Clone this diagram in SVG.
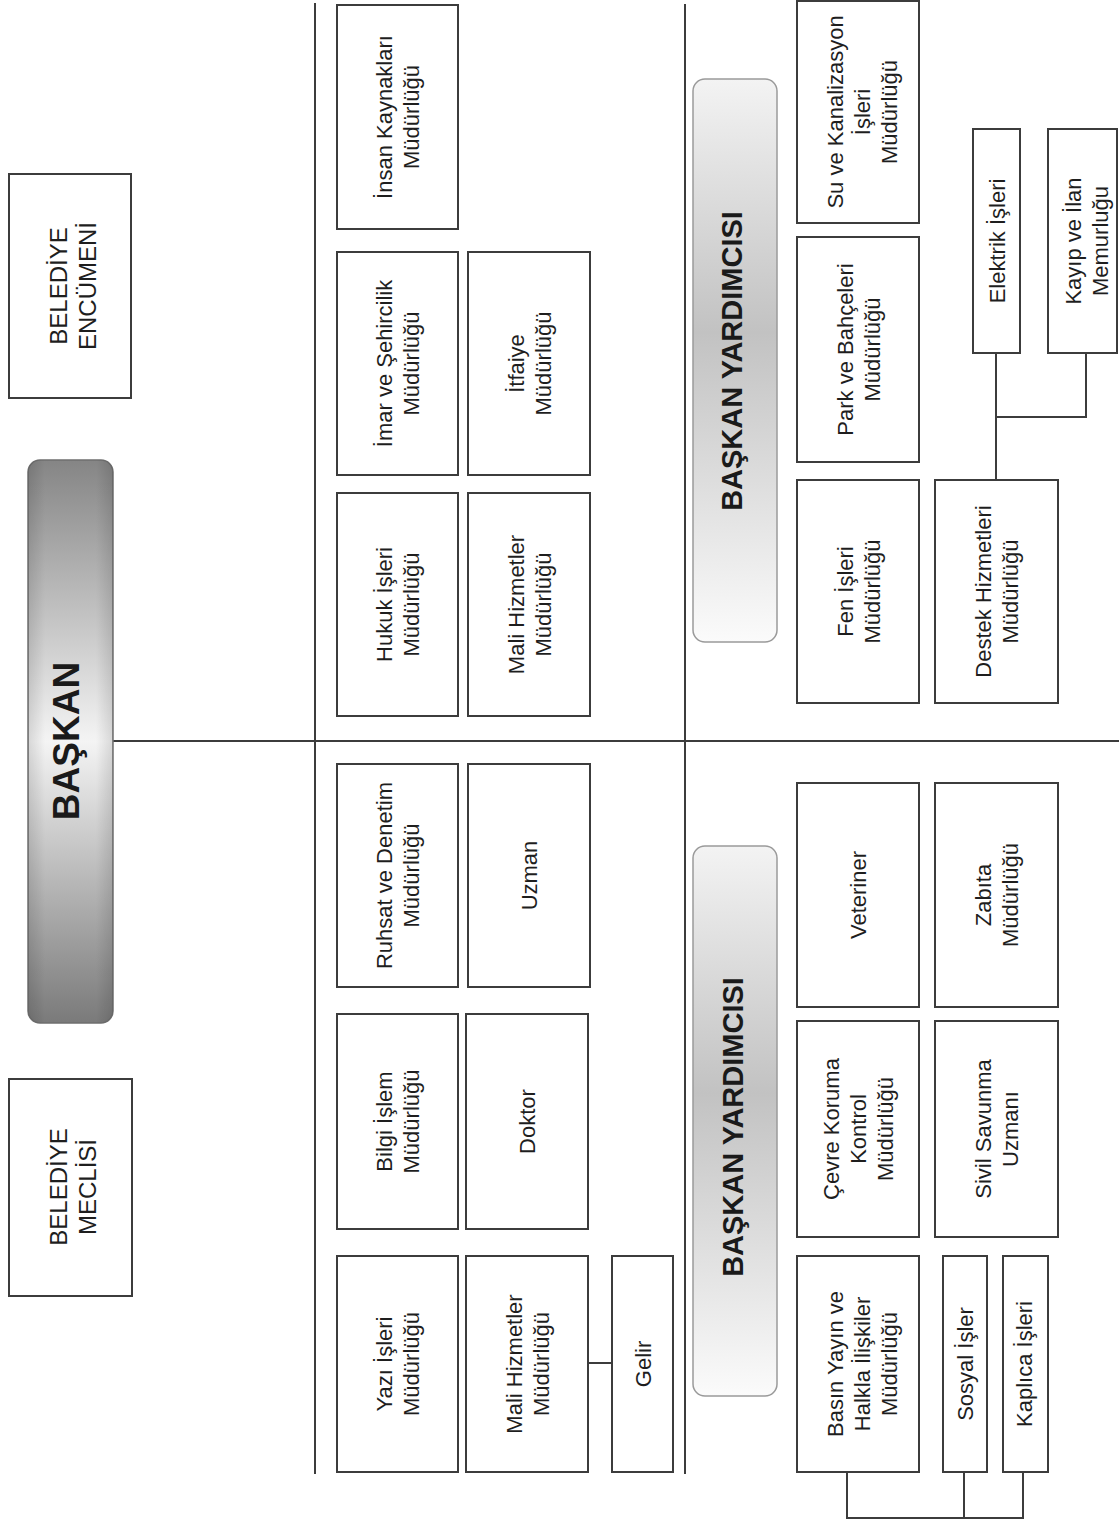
<svg xmlns="http://www.w3.org/2000/svg" width="1119" height="1539" viewBox="0 0 1119 1539">
<defs>
<linearGradient id="gBaskan" x1="0" y1="0" x2="0" y2="1">
<stop offset="0" stop-color="#858585"/>
<stop offset="0.5" stop-color="#f4f4f4"/>
<stop offset="1" stop-color="#7a7a7a"/>
</linearGradient>
<linearGradient id="gEdge" x1="0" y1="0" x2="1" y2="0">
<stop offset="0" stop-color="#000" stop-opacity="0.12"/>
<stop offset="0.2" stop-color="#000" stop-opacity="0"/>
<stop offset="0.8" stop-color="#000" stop-opacity="0"/>
<stop offset="1" stop-color="#000" stop-opacity="0.12"/>
</linearGradient>
<linearGradient id="gYard" x1="0" y1="0" x2="0" y2="1">
<stop offset="0" stop-color="#f3f3f3"/>
<stop offset="0.45" stop-color="#c2c2c2"/>
<stop offset="0.8" stop-color="#e6e6e6"/>
<stop offset="1" stop-color="#fbfbfb"/>
</linearGradient>
</defs>
<style>
.box{fill:#fff;stroke:#3c3c3c;stroke-width:2}
.t{font-family:"Liberation Sans",Arial,sans-serif;font-size:22px;fill:#1e1e1e;text-anchor:middle}
.tb{font-family:"Liberation Sans",Arial,sans-serif;font-size:24px;fill:#1e1e1e;text-anchor:middle}
.th{font-family:"Liberation Sans",Arial,sans-serif;font-weight:bold;fill:#1a1a1a;text-anchor:middle}
.ln{fill:none;stroke:#3c3c3c;stroke-width:2}
</style>
<rect width="1119" height="1539" fill="#fff"/>

<g id="connectors">
<path class="ln" d="M315,3 V1474"/>
<path class="ln" d="M685,4 V1474"/>
<path class="ln" d="M113,741 H1119"/>
<path class="ln" d="M588,1363 H612"/>
<path class="ln" d="M996,480 V353"/>
<path class="ln" d="M996,417 H1086 V353"/>
<path class="ln" d="M847,1472 V1518 H1023 V1472"/>
<path class="ln" d="M964,1472 V1518"/>
</g>

<g id="belediye-encumeni">
<rect class="box" x="9" y="174" width="122" height="224"/>
<text class="tb" transform="translate(72.5,286) rotate(-90)"><tspan x="0" y="-6">BELEDİYE</tspan><tspan x="0" y="23">ENCÜMENİ</tspan></text>
</g>
<g id="baskan">
<rect x="28" y="460" width="85" height="563" rx="12" fill="url(#gBaskan)" stroke="#6f6f6f" stroke-width="1.5"/>
<rect x="28" y="460" width="85" height="563" rx="12" fill="url(#gEdge)"/>
<text class="th" font-size="37" transform="translate(66,741) rotate(-90)"><tspan x="0" y="13">BAŞKAN</tspan></text>
</g>
<g id="belediye-meclisi">
<rect class="box" x="9" y="1079" width="123" height="217"/>
<text class="tb" transform="translate(72.5,1187) rotate(-90)"><tspan x="0" y="-6">BELEDİYE</tspan><tspan x="0" y="23">MECLİSİ</tspan></text>
</g>

<g id="insan-kaynaklari">
<rect class="box" x="337" y="5" width="121" height="224"/>
<text class="t" transform="translate(397.5,117) rotate(-90)"><tspan x="0" y="-5.5">İnsan Kaynakları</tspan><tspan x="0" y="21.5">Müdürlüğü</tspan></text>
</g>
<g id="imar">
<rect class="box" x="337" y="252" width="121" height="223"/>
<text class="t" transform="translate(397.5,363.5) rotate(-90)"><tspan x="0" y="-5.5">İmar ve Şehircilik</tspan><tspan x="0" y="21.5">Müdürlüğü</tspan></text>
</g>
<g id="itfaiye">
<rect class="box" x="468" y="252" width="122" height="223"/>
<text class="t" transform="translate(529,363.5) rotate(-90)"><tspan x="0" y="-5.5">İtfaiye</tspan><tspan x="0" y="21.5">Müdürlüğü</tspan></text>
</g>
<g id="hukuk">
<rect class="box" x="337" y="493" width="121" height="223"/>
<text class="t" transform="translate(397.5,604.5) rotate(-90)"><tspan x="0" y="-5.5">Hukuk İşleri</tspan><tspan x="0" y="21.5">Müdürlüğü</tspan></text>
</g>
<g id="mali-hizmetler-1">
<rect class="box" x="468" y="493" width="122" height="223"/>
<text class="t" transform="translate(529,604.5) rotate(-90)"><tspan x="0" y="-5.5">Mali Hizmetler</tspan><tspan x="0" y="21.5">Müdürlüğü</tspan></text>
</g>
<g id="ruhsat">
<rect class="box" x="337" y="764" width="121" height="223"/>
<text class="t" transform="translate(397.5,875.5) rotate(-90)"><tspan x="0" y="-5.5">Ruhsat ve Denetim</tspan><tspan x="0" y="21.5">Müdürlüğü</tspan></text>
</g>
<g id="uzman">
<rect class="box" x="468" y="764" width="122" height="223"/>
<text class="t" transform="translate(529,875.5) rotate(-90)"><tspan x="0" y="8">Uzman</tspan></text>
</g>
<g id="bilgi-islem">
<rect class="box" x="337" y="1014" width="121" height="215"/>
<text class="t" transform="translate(397.5,1121.5) rotate(-90)"><tspan x="0" y="-5.5">Bilgi İşlem</tspan><tspan x="0" y="21.5">Müdürlüğü</tspan></text>
</g>
<g id="doktor">
<rect class="box" x="466" y="1014" width="122" height="215"/>
<text class="t" transform="translate(527,1121.5) rotate(-90)"><tspan x="0" y="8">Doktor</tspan></text>
</g>
<g id="yazi-isleri">
<rect class="box" x="337" y="1256" width="121" height="216"/>
<text class="t" transform="translate(397.5,1364) rotate(-90)"><tspan x="0" y="-5.5">Yazı İşleri</tspan><tspan x="0" y="21.5">Müdürlüğü</tspan></text>
</g>
<g id="mali-hizmetler-2">
<rect class="box" x="466" y="1256" width="122" height="216"/>
<text class="t" transform="translate(527,1364) rotate(-90)"><tspan x="0" y="-5.5">Mali Hizmetler</tspan><tspan x="0" y="21.5">Müdürlüğü</tspan></text>
</g>
<g id="gelir">
<rect class="box" x="612" y="1256" width="61" height="216"/>
<text class="t" transform="translate(642.5,1364) rotate(-90)"><tspan x="0" y="8">Gelir</tspan></text>
</g>

<g id="baskan-yardimcisi-1">
<rect x="693" y="79" width="84" height="563" rx="12" fill="url(#gYard)" stroke="#9a9a9a" stroke-width="1.5"/>
<text class="th" font-size="29" transform="translate(731,361) rotate(-90)"><tspan x="0" y="10.5">BAŞKAN YARDIMCISI</tspan></text>
</g>
<g id="su-kanalizasyon">
<rect class="box" x="797" y="1" width="122" height="222"/>
<text class="t" transform="translate(862,112) rotate(-90)"><tspan x="0" y="-19">Su ve Kanalizasyon</tspan><tspan x="0" y="8">İşleri</tspan><tspan x="0" y="35">Müdürlüğü</tspan></text>
</g>
<g id="park-bahceleri">
<rect class="box" x="797" y="237" width="122" height="225"/>
<text class="t" transform="translate(858,349.5) rotate(-90)"><tspan x="0" y="-5.5">Park ve Bahçeleri</tspan><tspan x="0" y="21.5">Müdürlüğü</tspan></text>
</g>
<g id="fen-isleri">
<rect class="box" x="797" y="480" width="122" height="223"/>
<text class="t" transform="translate(858,591.5) rotate(-90)"><tspan x="0" y="-5.5">Fen İşleri</tspan><tspan x="0" y="21.5">Müdürlüğü</tspan></text>
</g>
<g id="elektrik-isleri">
<rect class="box" x="973" y="129" width="47" height="224"/>
<text class="t" transform="translate(996.5,241) rotate(-90)"><tspan x="0" y="8">Elektrik İşleri</tspan></text>
</g>
<g id="kayip-ilan">
<rect class="box" x="1048" y="129" width="69" height="224"/>
<text class="t" transform="translate(1086,241) rotate(-90)"><tspan x="0" y="-5.5">Kayıp ve İlan</tspan><tspan x="0" y="21.5">Memurluğu</tspan></text>
</g>
<g id="destek-hizmetleri">
<rect class="box" x="935" y="480" width="123" height="223"/>
<text class="t" transform="translate(996.5,591.5) rotate(-90)"><tspan x="0" y="-5.5">Destek Hizmetleri</tspan><tspan x="0" y="21.5">Müdürlüğü</tspan></text>
</g>

<g id="baskan-yardimcisi-2">
<rect x="693" y="846" width="84" height="550" rx="12" fill="url(#gYard)" stroke="#9a9a9a" stroke-width="1.5"/>
<text class="th" font-size="29" transform="translate(732,1127) rotate(-90)"><tspan x="0" y="10.5">BAŞKAN YARDIMCISI</tspan></text>
</g>
<g id="veteriner">
<rect class="box" x="797" y="783" width="122" height="224"/>
<text class="t" transform="translate(858,895) rotate(-90)"><tspan x="0" y="8">Veteriner</tspan></text>
</g>
<g id="zabita">
<rect class="box" x="935" y="783" width="123" height="224"/>
<text class="t" transform="translate(996.5,895) rotate(-90)"><tspan x="0" y="-5.5">Zabıta</tspan><tspan x="0" y="21.5">Müdürlüğü</tspan></text>
</g>
<g id="cevre-koruma">
<rect class="box" x="797" y="1021" width="122" height="216"/>
<text class="t" transform="translate(858,1129) rotate(-90)"><tspan x="0" y="-19">Çevre Koruma</tspan><tspan x="0" y="8">Kontrol</tspan><tspan x="0" y="35">Müdürlüğü</tspan></text>
</g>
<g id="sivil-savunma">
<rect class="box" x="935" y="1021" width="123" height="216"/>
<text class="t" transform="translate(996.5,1129) rotate(-90)"><tspan x="0" y="-5.5">Sivil Savunma</tspan><tspan x="0" y="21.5">Uzmanı</tspan></text>
</g>
<g id="basin-yayin">
<rect class="box" x="797" y="1256" width="122" height="216"/>
<text class="t" transform="translate(862,1364) rotate(-90)"><tspan x="0" y="-19">Basın Yayın ve</tspan><tspan x="0" y="8">Halkla İlişkiler</tspan><tspan x="0" y="35">Müdürlüğü</tspan></text>
</g>
<g id="sosyal-isler">
<rect class="box" x="943" y="1256" width="44" height="216"/>
<text class="t" transform="translate(965,1364) rotate(-90)"><tspan x="0" y="8">Sosyal İşler</tspan></text>
</g>
<g id="kaplica-isleri">
<rect class="box" x="1003" y="1256" width="45" height="216"/>
<text class="t" transform="translate(1024,1364) rotate(-90)"><tspan x="0" y="8">Kaplıca İşleri</tspan></text>
</g>
</svg>
